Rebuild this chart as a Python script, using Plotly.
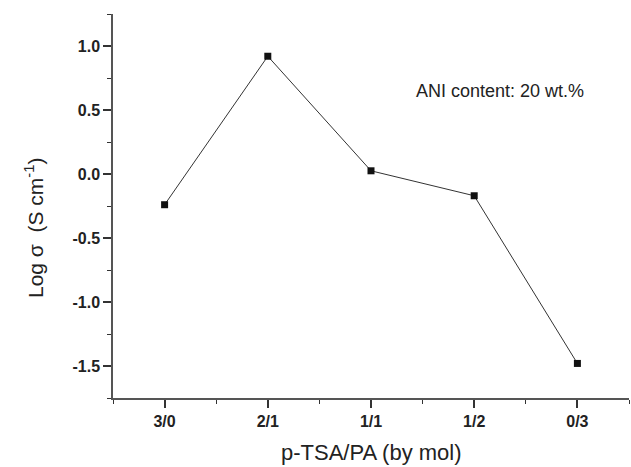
import plotly.graph_objects as go

categories = ["3/0", "2/1", "1/1", "1/2", "0/3"]
log_sigma = [-0.24, 0.92, 0.025, -0.17, -1.48]

x_pos = list(range(len(categories)))
y_major = [-1.5, -1.0, -0.5, 0.0, 0.5, 1.0]
y_major_text = ["-1.5", "-1.0", "-0.5", "0.0", "0.5", "1.0"]
y_minor = [-1.75, -1.25, -0.75, -0.25, 0.25, 0.75, 1.25]
x_minor = [-0.5, 0.5, 1.5, 2.5, 3.5, 4.5]

font = "Liberation Sans, Arial, sans-serif"
NB = "\u00a0"

fig = go.Figure()
fig.add_trace(go.Scatter(
    x=x_pos, y=log_sigma, mode="lines+markers",
    line=dict(color="#333333", width=1),
    marker=dict(symbol="square", size=7, color="#111111"),
    showlegend=False,
))

fig.update_layout(
    width=631, height=467,
    margin=dict(l=113, r=2, t=14, b=69),
    paper_bgcolor="white", plot_bgcolor="white",
    font=dict(family=font, color="#222222"),
    xaxis=dict(
        range=[-0.5, 4.5], tickmode="array", tickvals=x_pos, ticktext=categories,
        showline=True, linecolor="#555555", linewidth=1.5,
        ticks="outside", ticklen=8, tickwidth=1.5, tickcolor="#333333",
        showgrid=False, zeroline=False, automargin=False,
        tickfont=dict(family=font, size=16, color="#222222", weight="bold"),
        minor=dict(tickmode="array", tickvals=x_minor, ticks="outside", ticklen=4,
                   tickwidth=1.2, tickcolor="#333333", showgrid=False),
    ),
    yaxis=dict(
        range=[-1.75, 1.25], tickmode="array", tickvals=y_major, ticktext=y_major_text,
        showline=True, linecolor="#555555", linewidth=1.5,
        ticks="outside", ticklen=8, tickwidth=1.5, tickcolor="#333333",
        showgrid=False, zeroline=False, automargin=False,
        tickfont=dict(family=font, size=16, color="#222222", weight="bold"),
        minor=dict(tickmode="array", tickvals=y_minor, ticks="outside", ticklen=4,
                   tickwidth=1.2, tickcolor="#333333", showgrid=False),
    ),
)

fig.add_annotation(
    text="ANI content: 20 wt.%", xref="paper", yref="paper", x=0, y=1,
    xanchor="center", yanchor="middle", xshift=500 - 113, yshift=-(91 - 14),
    showarrow=False, font=dict(family=font, size=18, color="#222222"),
)
fig.add_annotation(
    text="p-TSA/PA (by mol)", xref="paper", yref="paper", x=0.5, y=0,
    xanchor="center", yanchor="middle", yshift=-(452 - 398),
    showarrow=False, font=dict(family=font, size=22, color="#222222"),
)
fig.add_annotation(
    text="Log" + NB + "σ" + NB + " (S cm<sup>-1</sup>)", xref="paper", yref="paper", x=0, y=0.5,
    xanchor="center", yanchor="middle", xshift=34 - 113, yshift=-22, textangle=-90,
    showarrow=False, font=dict(family=font, size=21, color="#222222"),
)

fig.write_html("out.html")
